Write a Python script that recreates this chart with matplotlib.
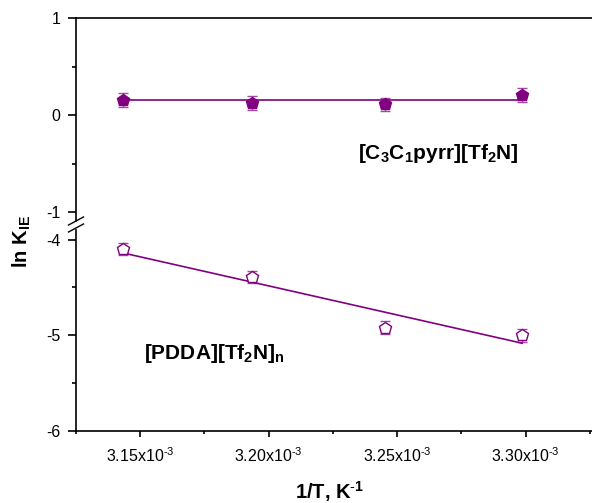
import numpy as np
import matplotlib
matplotlib.use("Agg")
import matplotlib.pyplot as plt
from matplotlib.ticker import FixedLocator

plt.rcParams["font.family"] = ["Liberation Sans", "DejaVu Sans"]
plt.rcParams["mathtext.fontset"] = "custom"
plt.rcParams["mathtext.rm"] = "Liberation Sans"
plt.rcParams["mathtext.it"] = "Liberation Sans"
plt.rcParams["mathtext.bf"] = "Liberation Sans:bold"
plt.rcParams["mathtext.default"] = "regular"

# 1/T values (K^-1) for 303-318 K
inv_T = [3.1432e-3, 3.1934e-3, 3.2452e-3, 3.2987e-3]

# [C3C1pyrr][Tf2N]
lnk_il = [0.155, 0.125, 0.11, 0.205]
err_il = [0.07, 0.07, 0.07, 0.07]
fit_il_x = [3.1432e-3, 3.2987e-3]
fit_il_y = [0.157, 0.157]

# [PDDA][Tf2N]n
lnk_poly = [-4.10, -4.39, -4.92, -5.00]
err_poly = [0.065, 0.065, 0.065, 0.065]
fit_poly_x = [3.1432e-3, 3.2987e-3]
fit_poly_y = [-4.139, -5.083]

xtick_vals = [3.15e-3, 3.20e-3, 3.25e-3, 3.30e-3]
xtick_minor = [3.125e-3, 3.175e-3, 3.225e-3, 3.275e-3, 3.325e-3]
xtick_labels = [r"3.15x10$^{\text{-}3}$", r"3.20x10$^{\text{-}3}$",
                r"3.25x10$^{\text{-}3}$", r"3.30x10$^{\text{-}3}$"]

purple = "#800080"
err_col = "#a04aa0"

W, H = 592, 503
fig = plt.figure(figsize=(W / 100, H / 100), dpi=100)

left = 76 / W
width = 578 / W
ax_top = fig.add_axes([left, 1 - 221 / H, width, (221 - 18) / H])
ax_bot = fig.add_axes([left, 1 - 431 / H, width, (431 - 230) / H])

xlim = (3.125e-3, 3.35e-3)

# upper panel
ax_top.errorbar(inv_T, lnk_il, yerr=err_il, fmt="none", ecolor=err_col,
                elinewidth=1, capsize=3.5, capthick=1, zorder=2)
ax_top.plot(fit_il_x, fit_il_y, color=purple, lw=1.2, zorder=3)
ax_top.plot(inv_T, lnk_il, "p", color=purple, ms=9, mec=purple, zorder=4)
ax_top.set_xlim(*xlim)
ax_top.set_ylim(-1.09, 1)
ax_top.yaxis.set_major_locator(FixedLocator([-1, 0, 1]))
ax_top.yaxis.set_minor_locator(FixedLocator([-0.5, 0.5]))
ax_top.set_yticklabels(["-1", "0", "1"])
ax_top.spines["bottom"].set_visible(False)
ax_top.tick_params(axis="x", which="both", bottom=False, labelbottom=False)

# lower panel
ax_bot.errorbar(inv_T, lnk_poly, yerr=err_poly, fmt="none", ecolor=err_col,
                elinewidth=1, capsize=3.5, capthick=1, zorder=2)
ax_bot.plot(fit_poly_x, fit_poly_y, color=purple, lw=1.2, zorder=3)
ax_bot.plot(inv_T, lnk_poly, "p", color=purple, ms=9, mfc="white",
            mec=purple, mew=1, zorder=4)
ax_bot.set_xlim(*xlim)
ax_bot.set_ylim(-6, -3.9)
ax_bot.yaxis.set_major_locator(FixedLocator([-6, -5, -4]))
ax_bot.yaxis.set_minor_locator(FixedLocator([-5.5, -4.5]))
ax_bot.set_yticklabels(["-6", "-5", "-4"])
ax_bot.spines["top"].set_visible(False)
ax_bot.xaxis.set_major_locator(FixedLocator(xtick_vals))
ax_bot.xaxis.set_minor_locator(FixedLocator(xtick_minor))
ax_bot.set_xticklabels(xtick_labels)

for ax in (ax_top, ax_bot):
    for s in ax.spines.values():
        s.set_linewidth(1.2)
    ax.tick_params(axis="y", which="major", direction="out", length=6, width=1.2,
                   labelsize=11.5, pad=5)
    ax.tick_params(axis="y", which="minor", direction="out", length=3, width=1.2)
    ax.tick_params(axis="x", which="major", direction="out", length=4, width=1.2,
                   labelsize=11.5, pad=7)
    ax.tick_params(axis="x", which="minor", direction="out", length=2.5, width=1.2)
    ax.tick_params(right=False, top=False)

# axis break marks
d = 0.013
ax_top.plot([-d, d], [-0.02, 0.02], transform=ax_top.transAxes, color="k",
            lw=1, clip_on=False)
ax_bot.plot([-d, d], [0.99, 1.03], transform=ax_bot.transAxes, color="k",
            lw=1, clip_on=False)

# labels
ax_top.text(3.266e-3, -0.39, "[C$_3$C$_1$pyrr][Tf$_2$N]", fontsize=15,
            fontweight="bold", ha="center", va="center")
ax_bot.text(3.179e-3, -5.19, "[PDDA][Tf$_2$N]$_n$", fontsize=15,
            fontweight="bold", ha="center", va="center")

fig.text(330 / W, 1 - 492 / H, r"1/T, K$^{\text{-}1}$", fontsize=14.5,
         fontweight="bold", ha="center", va="center")
fig.text(22 / W, 1 - 241 / H, "ln K$_{IE}$", fontsize=14.5, fontweight="bold",
         ha="center", va="center", rotation=90)

fig.savefig("out.png", dpi=100)
